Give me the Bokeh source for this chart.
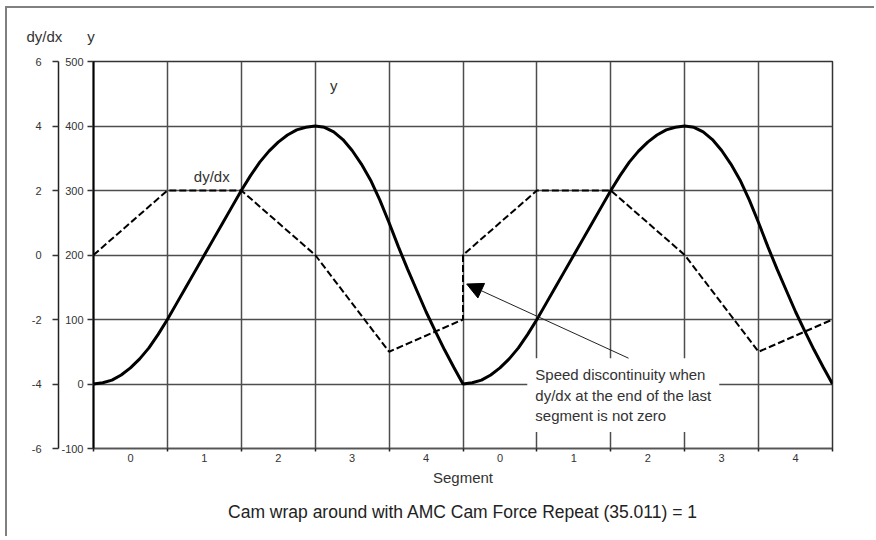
from bokeh.plotting import figure
from bokeh.models import (Range1d, LinearAxis, FixedTicker, Label, Arrow,
                          NormalHead, Title)
from bokeh.embed import file_html
from bokeh.resources import INLINE

# ---------------- data ----------------
# position curve y, read every eighth of a segment (segment units 0..10)
pos_x = [i * 0.125 for i in range(81)]
pos_y = [0, 2, 6, 14, 25, 39, 56, 77, 100,
         125, 150, 175, 200, 225, 250, 275, 300,
         323, 344, 361, 375, 386, 394, 398, 400,
         398, 391, 379, 362, 341, 316, 285, 250,
         213, 178, 145, 112, 82, 53, 26, 0,
         2, 6, 14, 25, 39, 56, 77, 100,
         125, 150, 175, 200, 225, 250, 275, 300,
         323, 344, 361, 375, 386, 394, 398, 400,
         398, 391, 379, 362, 341, 316, 285, 250,
         213, 178, 145, 112, 82, 53, 26, 0]

# speed curve dy/dx (dashed)
dydx_x = [0, 1, 2, 3, 4, 5, 5, 6, 7, 8, 9, 10]
dydx_y = [0, 2, 2, 0, -3, -2, 0, 2, 2, 0, -3, -2]

y_ticks = [-100, 0, 100, 200, 300, 400, 500]
y_tick_labels = ["-100", "0", "100", "200", "300", "400", "500"]
d_ticks = [-6, -4, -2, 0, 2, 4, 6]
d_tick_labels = ["-6", "-4", "-2", "0", "2", "4", "6"]
seg_bounds = list(range(11))
seg_centers = [0.5, 1.5, 2.5, 3.5, 4.5, 5.5, 6.5, 7.5, 8.5, 9.5]
seg_labels = ["0", "1", "2", "3", "4", "0", "1", "2", "3", "4"]

FONT = "Liberation Sans"
TXT = "#333333"
NB = "\u00a0"

p = figure(width=869, height=530, x_range=Range1d(0, 10), y_range=Range1d(-100, 500),
           output_backend="svg", toolbar_location=None,
           min_border_left=86, min_border_right=44, min_border_top=53, min_border_bottom=90,
           background_fill_color="white", border_fill_color="white")
p.styles = {"margin-left": "5px", "margin-top": "6px",
            "border-left": "2px solid #808080", "border-top": "2px solid #808080"}
p.extra_y_ranges = {"dydx": Range1d(-6, 6)}
p.outline_line_color = "#333333"
p.outline_line_width = 1.5

# top titles of the two left axes
p.title.text = "dy/dx" + NB * 6 + "y"
p.title.align = "left"
p.title.offset = -67
p.title.standoff = 34
p.title.text_font = FONT
p.title.text_font_size = "15px"
p.title.text_font_style = "normal"
p.title.text_color = TXT

# grids
p.xgrid.ticker = FixedTicker(ticks=seg_bounds)
p.ygrid.ticker = FixedTicker(ticks=y_ticks)
for g in list(p.xgrid) + list(p.ygrid):
    g.grid_line_color = "#4d4d4d"
    g.grid_line_width = 1.5

# main y axis
ya = p.yaxis[0]
ya.ticker = FixedTicker(ticks=y_ticks)
ya.major_label_overrides = dict(zip(y_ticks, y_tick_labels))
ya.major_tick_out = 6
ya.major_tick_in = 0
ya.minor_tick_out = 0
ya.minor_tick_in = 0
ya.major_label_standoff = 4
ya.axis_line_color = "black"
ya.axis_line_width = 2
ya.major_tick_line_color = "#333333"
ya.major_tick_line_width = 1.5
ya.major_label_text_font = FONT
ya.major_label_text_font_size = "11px"
ya.major_label_text_color = TXT

# spacer between the two left axes
sp = LinearAxis(ticker=FixedTicker(ticks=[]), axis_line_color=None, major_tick_out=11,
                major_tick_in=0, major_label_standoff=0, minor_tick_out=0, minor_tick_in=0,
                major_tick_line_color=None, minor_tick_line_color=None)
p.add_layout(sp, "left")

# dy/dx axis
da = LinearAxis(y_range_name="dydx", ticker=FixedTicker(ticks=d_ticks),
                major_label_overrides=dict(zip(d_ticks, d_tick_labels)))
da.major_tick_out = 6
da.major_tick_in = 0
da.minor_tick_out = 0
da.minor_tick_in = 0
da.major_label_standoff = 11
da.axis_line_color = "#222222"
da.axis_line_width = 1.5
da.major_tick_line_color = "#333333"
da.major_tick_line_width = 1.5
da.major_label_text_font = FONT
da.major_label_text_font_size = "11px"
da.major_label_text_color = TXT
p.add_layout(da, "left")

# x axis (segments)
xa = p.xaxis[0]
xa.ticker = FixedTicker(ticks=seg_centers, minor_ticks=seg_bounds)
xa.major_label_overrides = dict(zip(seg_centers, seg_labels))
xa.major_tick_out = 0
xa.major_tick_in = 0
xa.minor_tick_out = 3
xa.minor_tick_in = 0
xa.minor_tick_line_color = "#222222"
xa.minor_tick_line_width = 1.5
xa.major_label_standoff = 2
xa.axis_line_color = "#555555"
xa.axis_line_width = 1.5
xa.major_label_text_font = FONT
xa.major_label_text_font_size = "11px"
xa.major_label_text_color = TXT
xa.axis_label = "Segment"
xa.axis_label_text_font = FONT
xa.axis_label_text_font_size = "15px"
xa.axis_label_text_font_style = "normal"
xa.axis_label_text_color = TXT
xa.axis_label_standoff = 4

# curves
p.line(pos_x, pos_y, line_width=3, line_color="black")
p.line(dydx_x, dydx_y, y_range_name="dydx", line_width=2, line_color="black", line_dash="7 3")

# in-plot curve labels
p.add_layout(Label(x=1.6, y=321, text="dy/dx", text_align="center", text_baseline="middle",
                   text_font=FONT, text_font_size="15px", text_color=TXT))
p.add_layout(Label(x=3.25, y=463, text="y", text_align="center", text_baseline="middle",
                   text_font=FONT, text_font_size="15px", text_color=TXT))

# annotation box and arrow
p.add_layout(Label(x=5.87, y=40, text="Speed discontinuity when\ndy/dx at the end of the last\nsegment is not zero",
                   text_align="left", text_baseline="top", text_font=FONT, text_font_size="15px",
                   text_color=TXT, background_fill_color="white", padding=8, text_line_height=1.2))
p.add_layout(Arrow(x_start=7.24, y_start=40, x_end=5.05, y_end=155, line_width=1, line_color="#222222",
                   end=NormalHead(size=16, fill_color="black", line_color="black")))

# bottom title
p.add_layout(Title(text="Cam wrap around with AMC Cam Force Repeat (35.011) = 1", align="center",
                   text_font=FONT, text_font_size="17.5px", text_font_style="normal", text_color="#222222",
                   standoff=22), "below")

open("out.html", "w").write(file_html(p, INLINE))
